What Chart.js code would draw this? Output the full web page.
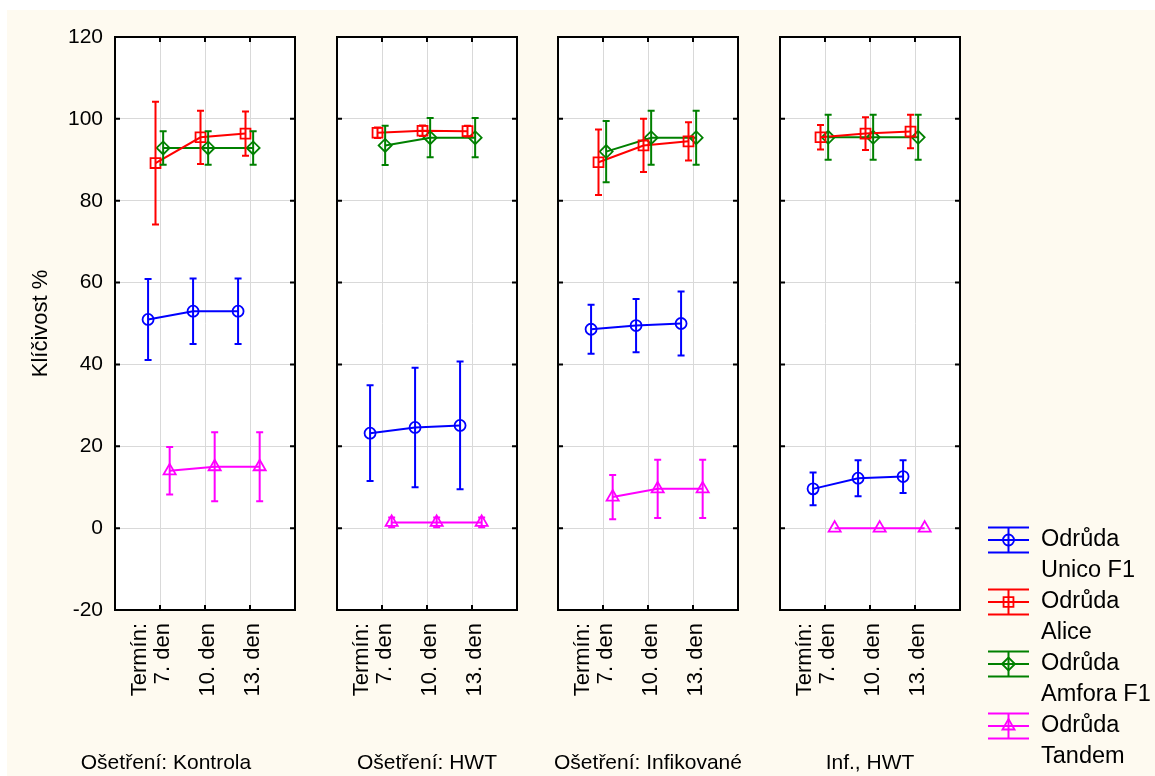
<!DOCTYPE html>
<html lang="cs">
<head>
<meta charset="UTF-8">
<title>Klíčivost %</title>
<script src="https://cdn.jsdelivr.net/npm/chart.js@4.4.1/dist/chart.umd.min.js"></script>
<style>
  html, body { margin: 0; padding: 0; background: #fff; overflow: hidden; width: 1155px; height: 776px; }
  #sheet { position: absolute; left: 7px; top: 10px; right: 0; bottom: 0; background: #fefaf0; }
  .panel { position: absolute; top: 0; height: 776px; }
</style>
</head>
<body>
<div id="sheet"></div>
<div class="panel" style="left:0px;width:332px"><canvas id="p0"></canvas></div>
<div class="panel" style="left:317px;width:220px"><canvas id="p1"></canvas></div>
<div class="panel" style="left:538px;width:220px"><canvas id="p2"></canvas></div>
<div class="panel" style="left:585px;width:570px"><canvas id="p3"></canvas></div>

<script>
// panels (treatments) and sampling days
var panelTitles = ['Ošetření: Kontrola', 'Ošetření: HWT', 'Ošetření: Infikované', 'Inf., HWT'];
var termLabels = [['Termín:', '7. den'], ['', '10. den'], ['', '13. den']];

// mean germination % and error half-width, one row per panel
var unicoMean  = [[51, 53, 53], [23.2, 24.6, 25.1], [48.6, 49.5, 50], [9.6, 12.2, 12.6]];
var unicoErr   = [[9.9, 8, 8], [11.7, 14.6, 15.6], [6, 6.5, 7.8], [4, 4.4, 4]];
var aliceMean  = [[89.2, 95.5, 96.4], [96.6, 97.1, 97], [89.4, 93.5, 94.5], [95.5, 96.4, 96.9]];
var aliceErr   = [[15, 6.5, 5.4], [1.3, 1.3, 1.3], [8, 6.5, 4.7], [3, 4, 4.1]];
var amforaMean = [[92.9, 92.9, 92.9], [93.5, 95.4, 95.4], [92, 95.4, 95.4], [95.5, 95.5, 95.5]];
var amforaErr  = [[4.1, 4.1, 4.1], [4.8, 4.8, 4.8], [7.5, 6.6, 6.6], [5.5, 5.5, 5.5]];
var tandemMean = [[14, 15, 15], [1.4, 1.4, 1.4], [7.6, 9.6, 9.6], [0, 0, 0]];
var tandemErr  = [[5.8, 8.4, 8.4], [1.2, 1.2, 1.2], [5.4, 7.1, 7.1], [0, 0, 0]];

var series = [
  { name: ['Odrůda', 'Unico F1'],  mean: unicoMean,  err: unicoErr,  color: '#0000ff', marker: 'circle',   radius: 5.5, shift: -0.265 },
  { name: ['Odrůda', 'Alice'],     mean: aliceMean,  err: aliceErr,  color: '#ff0000', marker: 'rect',     radius: 7,   shift: -0.1 },
  { name: ['Odrůda', 'Amfora F1'], mean: amforaMean, err: amforaErr, color: '#008000', marker: 'rectRot',  radius: 6.5, shift: 0.07 },
  { name: ['Odrůda', 'Tandem'],    mean: tandemMean, err: tandemErr, color: '#ff00ff', marker: 'triangle', radius: 7,   shift: 0.215 }
];

var FONT = 'Liberation Sans, Arial, sans-serif';
var GRID = '#d9d9d9';
// width of the left axis box and of the spacer on the right, per panel
var leftW  = [115, 20, 20, 195];
var rightW = [37, 20, 20, 195];

var framePlugin = {
  id: 'frame',
  beforeDraw: function(chart) {
    var a = chart.chartArea, ctx = chart.ctx;
    ctx.save();
    ctx.fillStyle = '#fff';
    ctx.fillRect(a.left, a.top, a.width, a.height);
    ctx.restore();
  },
  afterDatasetsDraw: function(chart) {
    var ctx = chart.ctx, a = chart.chartArea, ys = chart.scales.y, xs = chart.scales.x;
    ctx.save();
    // error bars
    chart.data.datasets.forEach(function(ds, i) {
      var meta = chart.getDatasetMeta(i);
      ctx.strokeStyle = ds.borderColor;
      ctx.lineWidth = 2;
      meta.data.forEach(function(pt, j) {
        var e = ds.errors[j];
        if (!e) return;
        var v = ds.data[j].y;
        var y1 = ys.getPixelForValue(v + e), y2 = ys.getPixelForValue(v - e);
        ctx.beginPath();
        ctx.moveTo(pt.x, y1); ctx.lineTo(pt.x, y2);
        ctx.moveTo(pt.x - 3.5, y1); ctx.lineTo(pt.x + 3.5, y1);
        ctx.moveTo(pt.x - 3.5, y2); ctx.lineTo(pt.x + 3.5, y2);
        ctx.stroke();
      });
    });
    // frame and inward ticks
    ctx.strokeStyle = '#000';
    ctx.lineWidth = 2;
    ctx.strokeRect(a.left, a.top, a.width, a.height);
    ctx.beginPath();
    for (var v = -20; v <= 120; v += 20) {
      var py = ys.getPixelForValue(v);
      ctx.moveTo(a.left, py); ctx.lineTo(a.left + 5, py);
      ctx.moveTo(a.right, py); ctx.lineTo(a.right - 5, py);
    }
    for (var t = 1; t <= 3; t++) {
      var px = xs.getPixelForValue(t);
      ctx.moveTo(px, a.top); ctx.lineTo(px, a.top + 5);
      ctx.moveTo(px, a.bottom); ctx.lineTo(px, a.bottom - 5);
    }
    ctx.stroke();
    ctx.restore();
  }
};

var legendPlugin = {
  id: 'sideLegend',
  afterDraw: function(chart) {
    if (chart.options.plugins.sideLegend.show !== true) return;
    var ctx = chart.ctx, a = chart.chartArea;
    var lx = a.right + 28, lw = 41;
    ctx.save();
    series.forEach(function(s, i) {
      var cy = a.bottom - 70 + 62 * i;
      ctx.strokeStyle = s.color;
      ctx.lineWidth = 2;
      ctx.beginPath();
      [-12.5, 0, 12.5].forEach(function(d) {
        ctx.moveTo(lx, cy + d); ctx.lineTo(lx + lw, cy + d);
      });
      ctx.moveTo(lx + lw / 2, cy - 12.5); ctx.lineTo(lx + lw / 2, cy + 12.5);
      ctx.stroke();
      ctx.fillStyle = 'rgba(0,0,0,0)';
      ctx.lineWidth = 1.8;
      Chart.helpers.drawPoint(ctx, { pointStyle: s.marker, radius: s.radius, borderWidth: 1.8, rotation: 0 }, lx + lw / 2, cy);
      ctx.fillStyle = '#000';
      ctx.font = '23.5px ' + FONT;
      ctx.textBaseline = 'middle';
      ctx.textAlign = 'left';
      ctx.fillText(s.name[0], lx + 53, cy);
      ctx.fillText(s.name[1], lx + 53, cy + 31);
    });
    ctx.restore();
  }
};

function makePanel(k) {
  var datasets = series.map(function(s) {
    return {
      label: s.name.join(' '),
      data: s.mean[k].map(function(v, j) { return { x: j + 1 + s.shift, y: v }; }),
      errors: s.err[k],
      borderColor: s.color,
      backgroundColor: 'rgba(0,0,0,0)',
      borderWidth: 2,
      pointStyle: s.marker,
      pointRadius: s.radius,
      pointBorderWidth: 1.8,
      pointBorderColor: s.color,
      pointBackgroundColor: 'rgba(0,0,0,0)',
      tension: 0
    };
  });

  return new Chart(document.getElementById('p' + k), {
    type: 'line',
    data: { datasets: datasets },
    options: {
      responsive: true,
      maintainAspectRatio: false,
      animation: false,
      events: [],
      layout: { padding: { top: 37, bottom: 0, left: 0, right: 0 } },
      plugins: {
        legend: { display: false },
        tooltip: { enabled: false },
        title: {
          display: true,
          text: panelTitles[k],
          position: 'bottom',
          color: '#000',
          font: { family: FONT, size: 21, weight: 'normal' },
          padding: 0
        },
        sideLegend: { show: k === 3 }
      },
      scales: {
        x: {
          type: 'linear',
          min: 0,
          max: 4,
          afterBuildTicks: function(axis) {
            axis.ticks = [1, 2, 3].map(function(v) { return { value: v }; });
          },
          afterFit: function(axis) { axis.height = 140.8; },
          ticks: {
            autoSkip: false,
            minRotation: 90,
            maxRotation: 90,
            padding: 13,
            labelOffset: -20,
            color: '#000',
            font: { family: FONT, size: 22, lineHeight: 1.05 },
            callback: function(v, i) { return termLabels[i]; }
          },
          grid: { color: GRID, drawTicks: false },
          border: { display: false }
        },
        y: {
          min: -20,
          max: 120,
          afterFit: function(axis) { axis.width = leftW[k]; },
          ticks: {
            stepSize: 20,
            display: k === 0,
            padding: 12,
            color: '#000',
            font: { family: FONT, size: 21 }
          },
          title: {
            display: k === 0,
            text: 'Klíčivost %',
            color: '#000',
            font: { family: FONT, size: 22 },
            padding: { top: 28, bottom: 0 }
          },
          grid: { color: GRID, drawTicks: false },
          border: { display: false }
        },
        spacer: {
          type: 'linear',
          position: 'right',
          afterFit: function(axis) { axis.width = rightW[k]; },
          ticks: { display: false },
          grid: { display: false },
          border: { display: false }
        }
      }
    },
    plugins: [framePlugin, legendPlugin]
  });
}

for (var k = 0; k < 4; k++) makePanel(k);
</script>
</body>
</html>
